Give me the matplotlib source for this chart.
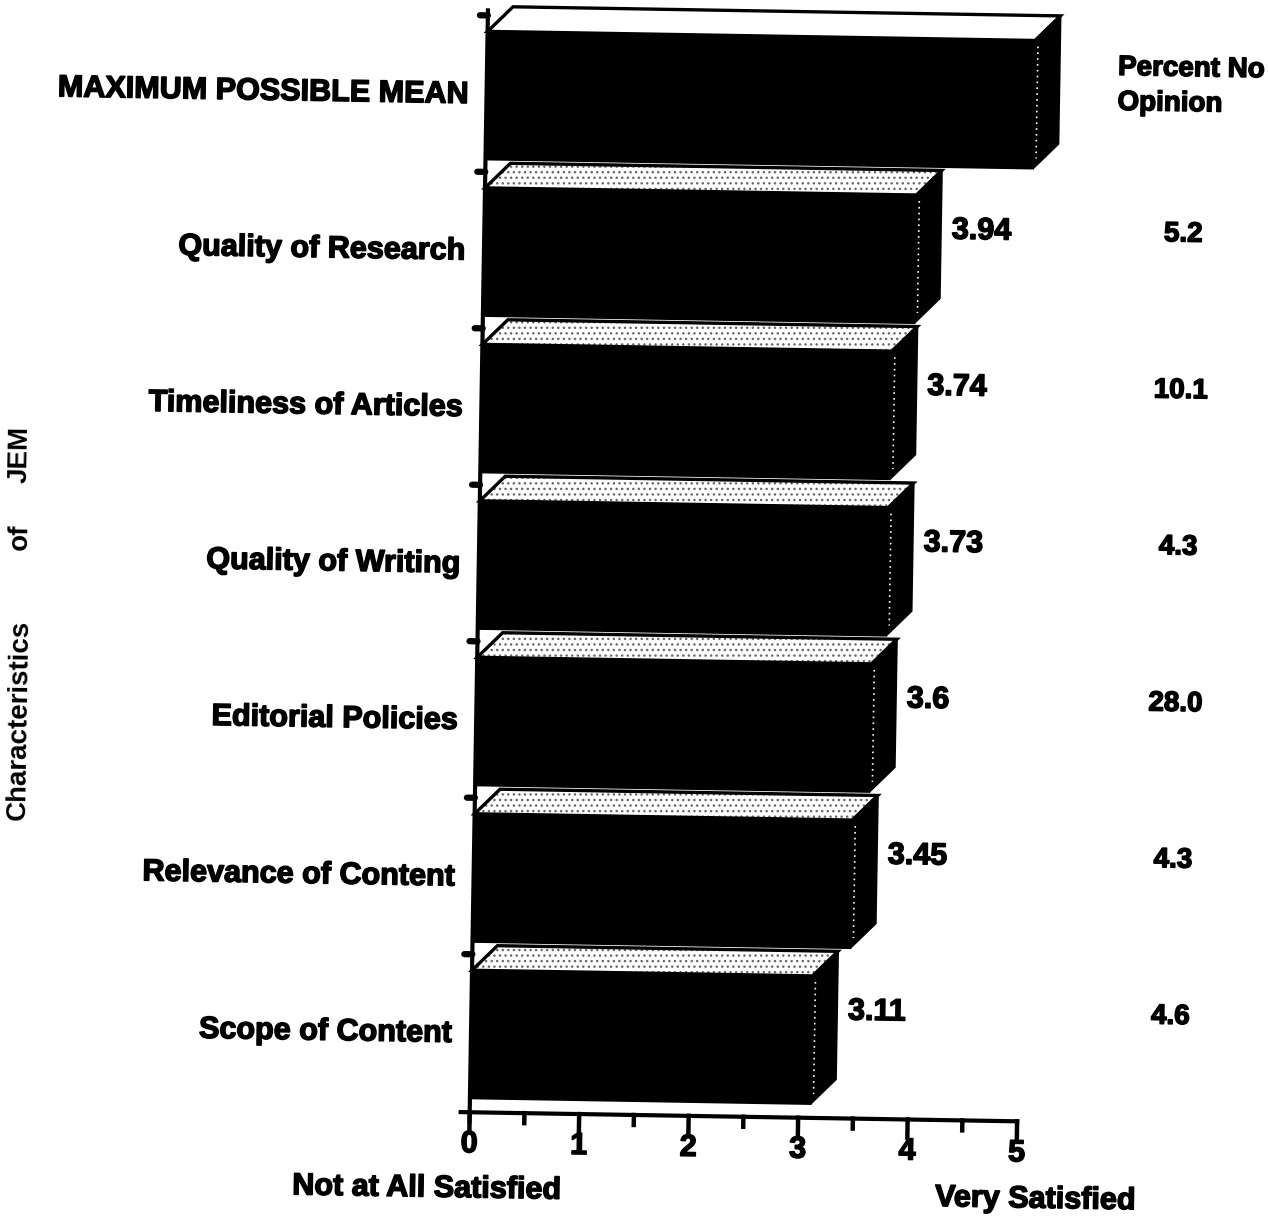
import matplotlib
matplotlib.use("Agg")
import matplotlib.pyplot as plt
import matplotlib.patheffects as pe
from matplotlib.patches import Polygon
from matplotlib.transforms import Affine2D

# ---- data -------------------------------------------------------------
categories = [
    "MAXIMUM POSSIBLE MEAN",
    "Quality of Research",
    "Timeliness of Articles",
    "Quality of Writing",
    "Editorial Policies",
    "Relevance of Content",
    "Scope of Content",
]
mean_scores = [5.0, 3.94, 3.74, 3.73, 3.6, 3.45, 3.11]
percent_no_opinion = [None, 5.2, 10.1, 4.3, 28.0, 4.3, 4.6]
x_ticks = [0, 1, 2, 3, 4, 5]

# ---- figure / axes geometry (pixels) ----------------------------------
W, H = 1268, 1225
X0_PX, X5_PX = 478, 1025.5          # value 0 and value 5
TOP_PX, BASE_PX = 8, 1115           # top of plot and baseline
FIRST_C_PX, PITCH_PX = 98, 156.5    # first bar centre and bar pitch

plt.rcParams["font.family"] = ["Liberation Sans", "DejaVu Sans"]

fig = plt.figure(figsize=(W / 100, H / 100), dpi=100)
ax = fig.add_axes([X0_PX / W, (H - BASE_PX) / H,
                   (X5_PX - X0_PX) / W, (BASE_PX - TOP_PX) / H])
ax.set_xlim(0, 5)
ax.set_ylim((BASE_PX - FIRST_C_PX) / PITCH_PX, (TOP_PX - FIRST_C_PX) / PITCH_PX)
ax.axis("off")

sx = (X5_PX - X0_PX) / 5.0   # px per value unit
sy = PITCH_PX                # px per bar slot


def dx(p):
    return p / sx


def dy(p):
    return p / sy


# the whole page is turned slightly clockwise
TILT = -0.95
T = ax.transData + Affine2D().rotate_deg_around(640, H - 612, TILT)

y_base = ax.get_ylim()[0]
front_h = dy(128)
depth_x, depth_y = dx(25), dy(25)
idx = list(range(len(categories)))

# ---- front faces ------------------------------------------------------
bars = ax.barh(idx, mean_scores, height=front_h, color="black",
               edgecolor="black", linewidth=1.5)
for b in bars:
    b.set_transform(T)
    b.set_clip_on(False)

# ---- top and side faces -----------------------------------------------
for i, v in enumerate(mean_scores):
    top = i - front_h / 2
    bot = i + front_h / 2
    top_pts = [(0, top), (depth_x, top - depth_y), (v + depth_x, top - depth_y), (v, top)]
    side_pts = [(v, top), (v + depth_x, top - depth_y), (v + depth_x, bot - depth_y), (v, bot)]

    face = Polygon(top_pts, closed=True, facecolor="white", edgecolor="none",
                   transform=T, clip_on=False, zorder=2)
    ax.add_patch(face)
    if i > 0:
        speckle = Polygon(top_pts, closed=True, facecolor="none", edgecolor="#6a6a6a",
                          linewidth=0, hatch="...", transform=T, clip_on=False, zorder=2.1)
        ax.add_patch(speckle)
    outline = Polygon(top_pts, closed=True, facecolor="none", edgecolor="black",
                      linewidth=2.4, transform=T, clip_on=False, zorder=2.2)
    ax.add_patch(outline)

    side = Polygon(side_pts, closed=True, facecolor="black", edgecolor="black",
                   linewidth=1.5, transform=T, clip_on=False, zorder=2)
    ax.add_patch(side)
    ax.plot([v + dx(3), v + dx(3)], [top + dy(6), bot - dy(10)], color="white",
            linestyle=(0, (1, 2.5)), linewidth=1.2, transform=T, clip_on=False, zorder=3)

# ---- axes lines and ticks ---------------------------------------------
ax.plot([0, 0], [dy(13 - FIRST_C_PX), y_base + dy(9)], color="black", linewidth=3,
        transform=T, clip_on=False, zorder=4)
ax.plot([-dx(9), 5], [y_base, y_base], color="black", linewidth=3,
        transform=T, clip_on=False, zorder=4)
for t in x_ticks:
    ax.plot([t, t], [y_base, y_base + dy(18)], color="black", linewidth=3.2,
            transform=T, clip_on=False, zorder=4)
for t in x_ticks[:-1]:
    ax.plot([t + 0.5, t + 0.5], [y_base, y_base + dy(10)], color="black", linewidth=3.2,
            transform=T, clip_on=False, zorder=4)
for i in idx:
    ax.plot([-dx(8), 0], [i - dy(80), i - dy(80)], color="black", linewidth=4.5,
            solid_capstyle="round", transform=T, clip_on=False, zorder=4)

# ---- text -------------------------------------------------------------
ink = [pe.withStroke(linewidth=1.1, foreground="black")]
txt = dict(transform=T, rotation=TILT, rotation_mode="anchor", color="black",
           fontweight="bold", path_effects=ink)

for i, cat in enumerate(categories):
    ax.text(-dx(19), i, cat, ha="right", va="center", fontsize=22, **txt)

for i, v in enumerate(mean_scores):
    if i == 0:
        continue
    ax.text(v + dx(36), i - dy(29), f"{v:g}", ha="left", va="center",
            fontsize=22, **txt)

pct_x = dx(1177 - X0_PX)
for i, p in enumerate(percent_no_opinion):
    if p is None:
        continue
    ax.text(pct_x, i - dy(29), f"{p:.1f}", ha="center", va="center",
            fontsize=20, **txt)

ax.text(dx(1109 - X0_PX), dy(60 - FIRST_C_PX), "Percent No", ha="left", va="center",
        fontsize=20, **txt)
ax.text(dx(1109 - X0_PX), dy(95 - FIRST_C_PX), "Opinion", ha="left", va="center",
        fontsize=20, **txt)

for t in x_ticks:
    ax.text(t, y_base + dy(32), str(t), ha="center", va="center",
            fontsize=22, **txt)

ax.text(dx(436 - X0_PX), dy(1192 - FIRST_C_PX), "Not at All Satisfied", ha="center",
        va="center", fontsize=22, **txt)
ax.text(dx(1045 - X0_PX), dy(1193 - FIRST_C_PX), "Very Satisfied", ha="center",
        va="center", fontsize=22, **txt)

ylab = dict(transform=T, rotation=90 + TILT, rotation_mode="anchor",
            ha="center", va="center", fontsize=20, fontweight="bold", color="black")
ax.text(dx(21 - X0_PX), dy(730 - FIRST_C_PX), "Characteristics", **ylab)
ax.text(dx(19 - X0_PX), dy(547 - FIRST_C_PX), "of", **ylab)
ax.text(dx(18 - X0_PX), dy(465 - FIRST_C_PX), "JEM", **ylab)

fig.savefig("out.png", dpi=100, facecolor="white")
